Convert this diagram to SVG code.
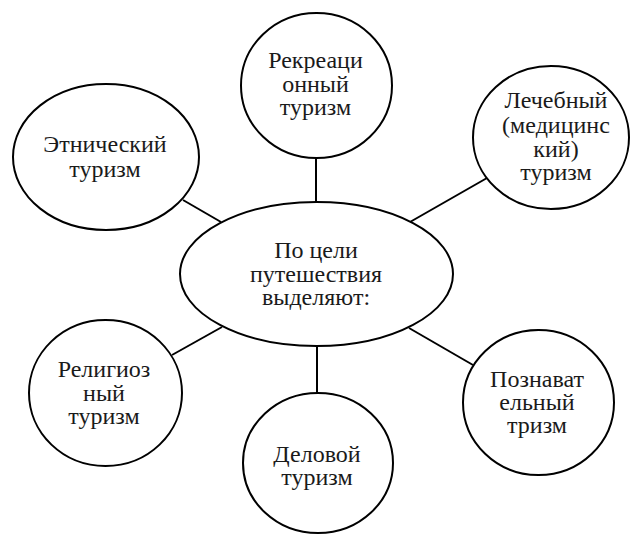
<svg xmlns="http://www.w3.org/2000/svg" width="630" height="534" viewBox="0 0 630 534">
<style>
.n{fill:#fff;stroke:#000;stroke-width:2}
.c line{stroke:#000;stroke-width:2}
.t{font-family:'Liberation Serif','DejaVu Serif',serif;font-size:24px;fill:#1a1a1a;text-anchor:middle}
</style>
<rect width="630" height="534" fill="#fff"/>
<g class="c" id="connectors">
<line x1="316" y1="158" x2="316" y2="202"/>
<line x1="183" y1="200" x2="221" y2="222"/>
<line x1="410" y1="222" x2="487" y2="178"/>
<line x1="222" y1="327" x2="172" y2="355"/>
<line x1="317" y1="346" x2="317" y2="393"/>
<line x1="409" y1="328" x2="473" y2="365"/>
</g>
<g id="center"><ellipse class="n" cx="316.5" cy="274" rx="136.5" ry="72"/>
<text class="t" x="316" y="258">По цели</text><text class="t" x="316" y="282">путешествия</text><text class="t" x="316" y="305">выделяют:</text></g>
<g id="recreation"><ellipse class="n" cx="316.5" cy="85.5" rx="75.5" ry="72.5"/>
<text class="t" x="315.5" y="68">Рекреаци</text><text class="t" x="315.5" y="92">онный</text><text class="t" x="315.5" y="115">туризм</text></g>
<g id="ethnic"><ellipse class="n" cx="106" cy="157" rx="93" ry="73"/>
<text class="t" x="105" y="152">Этнический</text><text class="t" x="105" y="177">туризм</text></g>
<g id="medical"><ellipse class="n" cx="551" cy="137.5" rx="78" ry="71.5"/>
<text class="t" x="556" y="108">Лечебный</text><text class="t" x="556" y="133">(медицинс</text><text class="t" x="556" y="157">кий)</text><text class="t" x="556" y="180">туризм</text></g>
<g id="religious"><ellipse class="n" cx="105.5" cy="393" rx="76.5" ry="73"/>
<text class="t" x="104" y="377">Религиоз</text><text class="t" x="104" y="401">ный</text><text class="t" x="104" y="424">туризм</text></g>
<g id="business"><ellipse class="n" cx="318" cy="463" rx="75" ry="70"/>
<text class="t" x="317" y="462">Деловой</text><text class="t" x="317" y="485">туризм</text></g>
<g id="cognitive"><ellipse class="n" cx="538.5" cy="402.5" rx="75.5" ry="72.5"/>
<text class="t" x="537" y="387">Познават</text><text class="t" x="537" y="410">ельный</text><text class="t" x="537" y="433">тризм</text></g>
</svg>
